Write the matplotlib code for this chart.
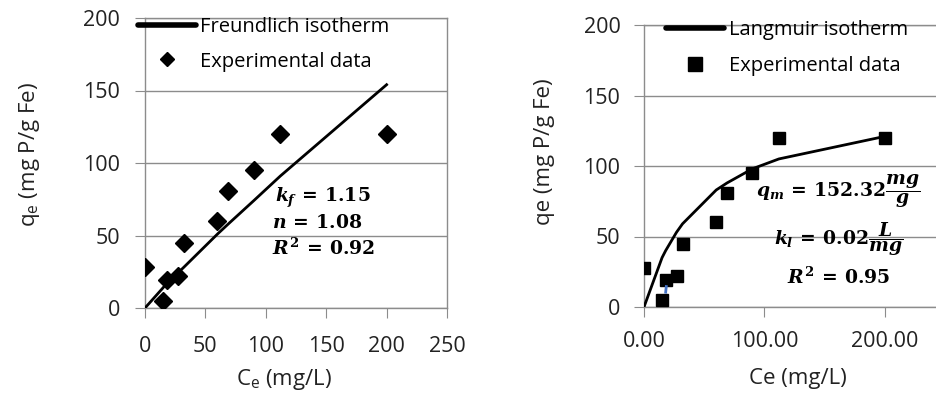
import matplotlib
matplotlib.use("Agg")
import matplotlib.pyplot as plt
from matplotlib.lines import Line2D

plt.rcParams['font.family'] = ['Open Sans', 'DejaVu Sans']
plt.rcParams['mathtext.fontset'] = 'custom'
plt.rcParams['mathtext.rm'] = 'DejaVu Serif:bold'
plt.rcParams['mathtext.it'] = 'DejaVu Serif:italic:bold'
plt.rcParams['mathtext.bf'] = 'DejaVu Serif:bold'
plt.rcParams['mathtext.sf'] = 'Open Sans'

# experimental data (same for both panels)
ce = [0, 15, 18, 27, 32, 60, 69, 90, 112, 200]
qe = [28, 5, 19, 22, 45, 60, 81, 95, 120, 120]

# fitted curves evaluated at the experimental Ce
freundlich_fit = [0, 14, 17, 24, 28, 51, 58, 74, 91, 154]
langmuir_fit = [0, 35, 40, 53, 59, 83, 88, 98, 105, 121]

# small blue stray segment in the right panel
stray_x = [18, 18.5]
stray_y = [10.5, 14.5]

left_xticks = [0, 50, 100, 150, 200, 250]
right_xticks = [0, 100, 200]
right_xticklabels = ['0.00', '100.00', '200.00']
yticks = [0, 50, 100, 150, 200]

grey = '#8c8c8c'
txt = '#222222'
tick_fs = 15.5
lab_fs = 16
leg_fs = 14.5
ann_fs = 13.5
W, H = 937, 398

fig = plt.figure(figsize=(W / 100, H / 100), dpi=100)


def style_axes(ax):
    ax.set_yticks(yticks)
    ax.set_ylim(0, 200)
    ax.grid(axis='y', color=grey, lw=1)
    ax.set_axisbelow(True)
    for s in ['left', 'bottom', 'top', 'right']:
        ax.spines[s].set_color(grey)
        ax.spines[s].set_linewidth(1)
    ax.tick_params(axis='both', colors=grey, direction='out', length=7,
                   labelsize=tick_fs, labelcolor=txt)


# ---------------- left panel: Freundlich ----------------
ax1 = fig.add_axes([145 / W, 1 - 308 / H, 302 / W, 290 / H])
style_axes(ax1)
ax1.set_xlim(0, 250)
ax1.set_xticks(left_xticks)
ax1.tick_params(axis='x', pad=13)
ax1.tick_params(axis='y', pad=11)
ax1.plot(ce, freundlich_fit, color='black', lw=2, zorder=3)
ax1.plot(ce, qe, 'D', color='black', ms=9.5, zorder=4)
ax1.set_ylabel('q$_\\mathsf{e}$ (mg P/g Fe)', fontsize=lab_fs, color=txt)
ax1.yaxis.set_label_coords(-0.341, 0.53)
ax1.set_xlabel('C$_\\mathsf{e}$ (mg/L)', fontsize=lab_fs, color=txt)
ax1.xaxis.set_label_coords(0.46, -0.205)
ax1.text(108, 76, r'$k_f\,=\,1.15$', fontsize=ann_fs, va='center')
ax1.text(105, 58.6, r'$n\,=\,1.08$', fontsize=ann_fs, va='center')
ax1.text(105, 41.4, r'$R^2\,=\,0.92$', fontsize=ann_fs, va='center')

h1 = [Line2D([], [], color='black', lw=4, solid_capstyle='round'),
      Line2D([], [], ls='none', marker='D', color='black', ms=7.5)]
fig.legend(h1, ['Freundlich isotherm', 'Experimental data'],
           loc='upper left', bbox_to_anchor=(138 / W, 1 - 17 / H),
           frameon=False, fontsize=leg_fs, handlelength=2.9, handletextpad=0.2,
           borderpad=0, borderaxespad=0, labelspacing=0.72)

# ---------------- right panel: Langmuir ----------------
ax2 = fig.add_axes([644 / W, 1 - 307 / H, 301 / W, 282 / H])
style_axes(ax2)
ax2.spines['right'].set_visible(False)
ax2.set_xlim(0, 250)
ax2.set_xticks(right_xticks)
ax2.set_xticklabels(right_xticklabels)
ax2.tick_params(axis='x', pad=10)
ax2.tick_params(axis='y', pad=10)
ax2.plot(ce, langmuir_fit, color='black', lw=2, zorder=3)
ax2.plot(stray_x, stray_y, color='#4472c4', lw=2, zorder=5)
ax2.plot(ce, qe, 's', color='black', ms=9, zorder=4)
ax2.set_ylabel('qe (mg P/g Fe)', fontsize=lab_fs, color=txt)
ax2.yaxis.set_label_coords(-0.296, 0.55)
ax2.set_xlabel('Ce (mg/L)', fontsize=lab_fs, color=txt)
ax2.xaxis.set_label_coords(0.51, -0.215)
ax2.text(161.5, 82, r'$q_m\,=\,152.32\dfrac{mg}{g}$', fontsize=ann_fs,
         ha='center', va='center')
ax2.text(161.5, 48, r'$k_l\,=\,0.02\dfrac{L}{mg}$', fontsize=ann_fs,
         ha='center', va='center')
ax2.text(161.5, 21.3, r'$R^2\,=\,0.95$', fontsize=ann_fs,
         ha='center', va='center')

h2 = [Line2D([], [], color='black', lw=4, solid_capstyle='round'),
      Line2D([], [], ls='none', marker='s', color='black', ms=10)]
fig.legend(h2, ['Langmuir isotherm', 'Experimental data'],
           loc='upper left', bbox_to_anchor=(666 / W, 1 - 20 / H),
           frameon=False, fontsize=leg_fs, handlelength=2.9, handletextpad=0.25,
           borderpad=0, borderaxespad=0, labelspacing=0.8)

fig.savefig('out.png', dpi=100)
